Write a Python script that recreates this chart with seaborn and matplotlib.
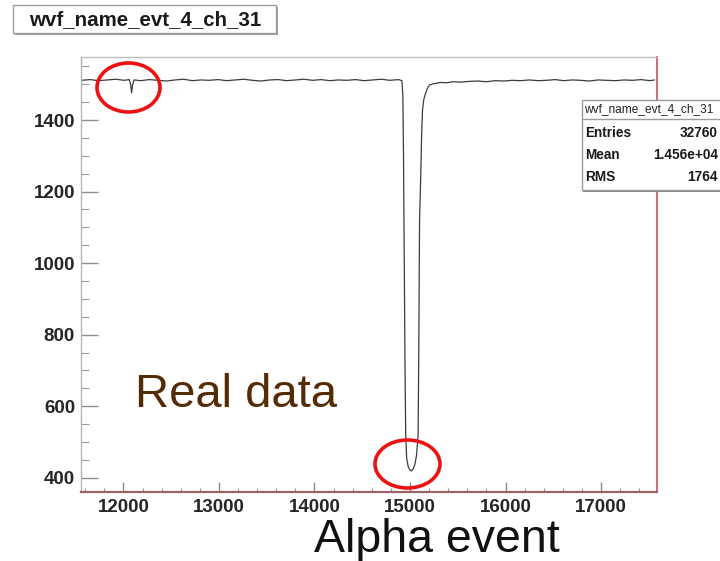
import numpy as np
import pandas as pd
import matplotlib
matplotlib.use("Agg")
import matplotlib.pyplot as plt
from matplotlib.patches import Rectangle, Ellipse
from matplotlib.ticker import MultipleLocator
import seaborn as sns

# ---- data ----
sample_time = [11560, 11650, 11740, 11830, 11920, 12010, 12060, 12075, 12085, 12095,
               12110, 12180, 12270, 12360, 12450, 12540, 12630, 12720, 12810, 12900,
               12990, 13080, 13170, 13260, 13350, 13440, 13530, 13620, 13710, 13800,
               13890, 13980, 14070, 14160, 14250, 14340, 14430, 14520, 14610, 14700,
               14790, 14880, 14915, 14925, 14932, 14940, 14948, 14955, 14965, 14980,
               14995, 15012, 15030, 15050, 15068, 15085, 15092, 15100, 15112, 15122,
               15131, 15145, 15163, 15185, 15205, 15240, 15280, 15320, 15380, 15450,
               15530, 15620, 15710, 15800, 15890, 15980, 16070, 16160, 16250, 16340,
               16430, 16520, 16610, 16700, 16790, 16880, 16970, 17060, 17150, 17240,
               17330, 17420, 17510, 17560]
adc_value = [1511, 1513, 1510, 1512, 1514, 1511, 1513, 1500, 1476, 1498,
             1512, 1510, 1513, 1511, 1509, 1512, 1514, 1510, 1512, 1511,
             1513, 1510, 1512, 1514, 1511, 1509, 1512, 1513, 1510, 1512,
             1514, 1511, 1513, 1510, 1512, 1511, 1513, 1510, 1512, 1514,
             1511, 1513, 1510, 1470, 1300, 1000, 700, 520, 455, 432,
             423, 419, 423, 436, 462, 520, 760, 1120, 1240, 1360,
             1428, 1458, 1475, 1490, 1498, 1501, 1503, 1505, 1504, 1507,
             1506, 1508, 1509, 1507, 1510, 1509, 1511, 1510, 1512, 1510,
             1511, 1513, 1510, 1512, 1511, 1509, 1512, 1511, 1510, 1512,
             1511, 1513, 1510, 1512]

x_ticks = [12000, 13000, 14000, 15000, 16000, 17000]
y_ticks = [400, 600, 800, 1000, 1200, 1400]
x_limits = [11551, 17583]
y_limits = [361, 1577]

hist_name = "wvf_name_evt_4_ch_31"
stat_labels = ["Entries", "Mean", "RMS"]
stat_values = ["32760", "1.456e+04", "1764"]
overlay_label = "Real data"
caption = "Alpha event"

# ---- figure ----
sns.set_style("white")
plt.rcParams["font.family"] = ["Liberation Sans", "DejaVu Sans"]

W, H = 720, 561
fig = plt.figure(figsize=(W / 100, H / 100), dpi=100)
fig.patch.set_facecolor("white")


def fx(x):
    return x / W


def fy(y):
    return 1 - y / H


ax = fig.add_axes([fx(80.6), fy(491.7), fx(656.7) - fx(80.6), fy(56.7) - fy(491.7)])

df = pd.DataFrame({"t": sample_time, "adc": adc_value})
sns.lineplot(data=df, x="t", y="adc", ax=ax, color="#3c3c3c", linewidth=0.9,
             estimator=None, sort=True)

ax.set_xlim(*x_limits)
ax.set_ylim(*y_limits)
ax.set_xlabel("")
ax.set_ylabel("")
ax.set_xticks(x_ticks)
ax.set_yticks(y_ticks)
ax.xaxis.set_minor_locator(MultipleLocator(200))
ax.yaxis.set_minor_locator(MultipleLocator(50))
ax.set_xticklabels([str(v) for v in x_ticks], fontsize=13.5, fontweight="bold")
ax.set_yticklabels([str(v) for v in y_ticks], fontsize=13.5, fontweight="bold")

ax.tick_params(axis="y", which="major", direction="in", length=12, width=1.0,
               color="#8c8c8c", pad=4, left=True)
ax.tick_params(axis="y", which="minor", direction="in", length=6, width=0.8,
               color="#9c9c9c", left=True)
ax.tick_params(axis="x", which="major", direction="in", length=7, width=1.0,
               color="#8c8c8c", pad=5, bottom=True)
ax.tick_params(axis="x", which="minor", direction="in", length=3, width=0.8,
               color="#9c9c9c", bottom=True)

ax.spines["left"].set_color("#b4b4b4")
ax.spines["top"].set_color("#c0c0c0")
ax.spines["right"].set_color("#c8747c")
ax.spines["right"].set_linewidth(1.5)
ax.spines["bottom"].set_color("#9a6466")
ax.spines["bottom"].set_linewidth(1.6)
ax.spines["left"].set_linewidth(1.0)
ax.spines["top"].set_linewidth(1.0)

# ---- title box (top-left) ----
fig.patches.append(Rectangle((fx(15), fy(35)), fx(278) - fx(15), fy(7) - fy(35),
                             transform=fig.transFigure, facecolor="#9a9a9a",
                             edgecolor="none", zorder=5))
fig.patches.append(Rectangle((fx(13), fy(33)), fx(276) - fx(13), fy(5) - fy(33),
                             transform=fig.transFigure, facecolor="white",
                             edgecolor="#a0a0a0", linewidth=1.0, zorder=6))
fig.text(fx(145), fy(19.5), hist_name, ha="center", va="center", fontsize=14.8,
         fontweight="bold", color="#1a1a1a", zorder=7)

# ---- stats box (top-right) ----
fig.patches.append(Rectangle((fx(583), fy(192)), fx(722) - fx(583), fy(102) - fy(192),
                             transform=fig.transFigure, facecolor="#8a8a8a",
                             edgecolor="none", zorder=5))
fig.patches.append(Rectangle((fx(581.5), fy(190)), fx(722) - fx(581.5), fy(100) - fy(190),
                             transform=fig.transFigure, facecolor="white",
                             edgecolor="#9a9a9a", linewidth=1.0, zorder=6))
fig.add_artist(plt.Line2D([fx(581.5), fx(722)], [fy(119), fy(119)],
                          transform=fig.transFigure, color="#9a9a9a", lw=1.0, zorder=7))
fig.text(fx(584), fy(109.5), hist_name, ha="left", va="center", fontsize=8.6,
         color="#222222", zorder=8)
row_y = [133, 155, 177]
for lab, val, yy in zip(stat_labels, stat_values, row_y):
    fig.text(fx(585), fy(yy), lab, ha="left", va="center", fontsize=9.8,
             fontweight="bold", color="#1a1a1a", zorder=8)
    fig.text(fx(718), fy(yy), val, ha="right", va="center", fontsize=9.8,
             fontweight="bold", color="#1a1a1a", zorder=8)

# ---- annotations ----
fig.text(fx(135), fy(407), overlay_label, ha="left", va="baseline", fontsize=34,
         color="#552b05", zorder=8)
fig.text(fx(436.5), fy(552), caption, ha="center", va="baseline", fontsize=33.5,
         color="#111111", zorder=8)

for cx, cy, w, h in [(128.5, 87.5, 63, 49), (407.5, 464, 65, 48)]:
    fig.patches.append(Ellipse((fx(cx), fy(cy)), fx(w), h / H,
                               transform=fig.transFigure, facecolor="none",
                               edgecolor="#ee1111", linewidth=2.6, zorder=9))

fig.savefig("out.png", dpi=100, facecolor="white")
